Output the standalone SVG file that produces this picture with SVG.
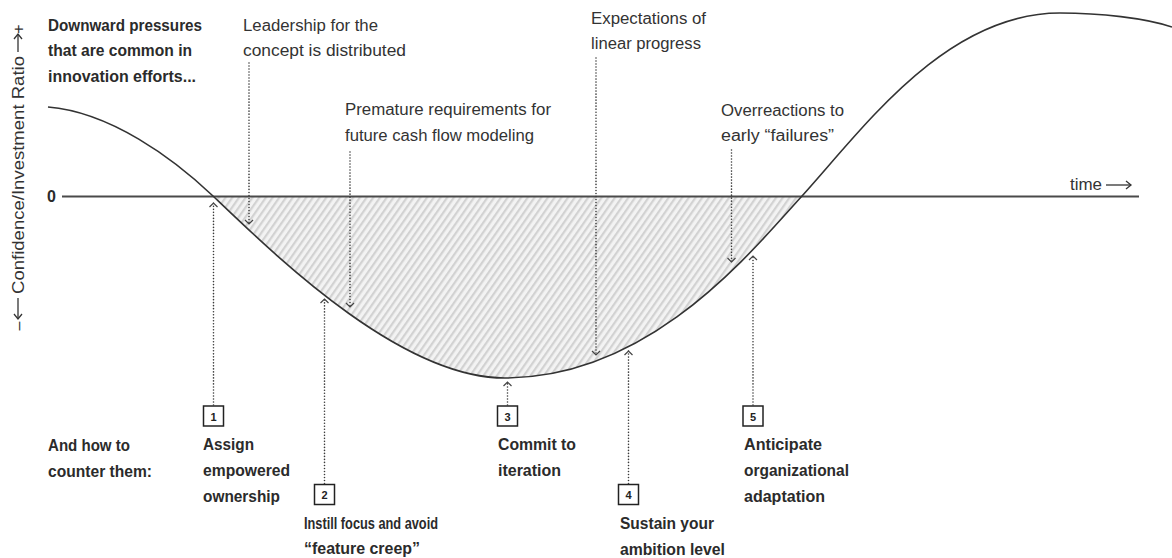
<svg xmlns="http://www.w3.org/2000/svg" width="1172" height="558" viewBox="0 0 1172 558">
<style>
  .b{font-family:"Liberation Sans",Arial,sans-serif;font-weight:bold;font-size:16px;fill:#2b2b2b}
  .r{font-family:"Liberation Sans",Arial,sans-serif;font-size:16px;fill:#333}
  .dot{fill:none;stroke:#3a3a3a;stroke-width:1.6;stroke-linecap:round;stroke-dasharray:0.01 3}
  .box{fill:#fff;stroke:#222;stroke-width:1.5}
  .num{font-family:"Liberation Sans",Arial,sans-serif;font-weight:bold;font-size:11px;fill:#222;text-anchor:middle}
  .curve{fill:none;stroke:#333;stroke-width:1.6}
  .axis{fill:none;stroke:#4a4a4a;stroke-width:2}
  .arr{fill:none;stroke:#333;stroke-width:1.3}
</style>
<defs>
  <pattern id="hatch" width="5.5" height="10" patternUnits="userSpaceOnUse" patternTransform="rotate(35)">
    <rect width="5.5" height="10" fill="#f3f3f3"/>
    <rect width="2.2" height="10" fill="#d2d2d2"/>
  </pattern>
  <marker id="chev" markerWidth="10" markerHeight="10" refX="0" refY="0" orient="auto" markerUnits="userSpaceOnUse" overflow="visible">
    <path d="M-4,-4 L0,0 L-4,4" fill="none" stroke="#444" stroke-width="1.2"/>
  </marker>
  <marker id="ahead" markerWidth="10" markerHeight="10" refX="0" refY="0" orient="auto" markerUnits="userSpaceOnUse" overflow="visible">
    <path d="M-5,-4 L0,0 L-5,4" fill="none" stroke="#333" stroke-width="1.3"/>
  </marker>
</defs>

<g id="chart">
  <path id="hatched-area" d="M213,196 C275,255 400,378 505,378 C650,378 750,253 802,196 Z" fill="url(#hatch)"/>
  <line class="axis" x1="62" y1="196.5" x2="1139" y2="196.5"/>
  <path class="curve" d="M48,107 C110,112 173,158 213,196 C275,255 400,378 505,378 C650,378 750,253 802,196 C862,130 945,13 1060,13 C1100,13 1145,18 1172,27"/>
  <text class="b" x="47" y="201.5" font-size="14">0</text>
  <text class="r" x="1070" y="190" textLength="32" lengthAdjust="spacingAndGlyphs">time</text>
  <line class="arr" x1="1106" y1="185" x2="1131" y2="185" marker-end="url(#ahead)"/>
</g>

<g id="y-axis-label">
  <text class="r" transform="translate(24,29) rotate(-90)" text-anchor="middle">+</text>
  <line class="arr" x1="18" y1="52" x2="18" y2="34" marker-end="url(#ahead)"/>
  <text class="r" transform="translate(24,175) rotate(-90)" text-anchor="middle" textLength="238" lengthAdjust="spacingAndGlyphs">Confidence/Investment Ratio</text>
  <line class="arr" x1="18" y1="298" x2="18" y2="319" marker-end="url(#ahead)"/>
  <text class="r" transform="translate(24,326) rotate(-90)" text-anchor="middle">–</text>
</g>

<g id="heading-pressures">
  <text class="b" x="48" y="30.5" textLength="154" lengthAdjust="spacingAndGlyphs">Downward pressures</text>
  <text class="b" x="48" y="56" textLength="144" lengthAdjust="spacingAndGlyphs">that are common in</text>
  <text class="b" x="48" y="81.5" textLength="148" lengthAdjust="spacingAndGlyphs">innovation efforts...</text>
</g>
<g id="heading-counter">
  <text class="b" x="48" y="450.5" textLength="82" lengthAdjust="spacingAndGlyphs">And how to</text>
  <text class="b" x="48" y="476.5" textLength="104" lengthAdjust="spacingAndGlyphs">counter them:</text>
</g>

<g id="pressure-leadership">
  <text class="r" x="243" y="30.5" textLength="135" lengthAdjust="spacingAndGlyphs">Leadership for the</text>
  <text class="r" x="243" y="56" textLength="163" lengthAdjust="spacingAndGlyphs">concept is distributed</text>
</g>
<g id="pressure-premature">
  <text class="r" x="345" y="115" textLength="206" lengthAdjust="spacingAndGlyphs">Premature requirements for</text>
  <text class="r" x="345" y="140.5" textLength="189" lengthAdjust="spacingAndGlyphs">future cash flow modeling</text>
</g>
<g id="pressure-expectations">
  <text class="r" x="591" y="24" textLength="115" lengthAdjust="spacingAndGlyphs">Expectations of</text>
  <text class="r" x="591" y="49" textLength="110" lengthAdjust="spacingAndGlyphs">linear progress</text>
</g>
<g id="pressure-overreactions">
  <text class="r" x="721" y="115.5" textLength="123" lengthAdjust="spacingAndGlyphs">Overreactions to</text>
  <text class="r" x="721" y="141" textLength="113" lengthAdjust="spacingAndGlyphs">early “failures”</text>
</g>

<g id="counter-1">
  <rect class="box" x="203.5" y="406" width="20" height="20"/>
  <text class="num" x="213.5" y="420.5">1</text>
  <text class="b" x="203" y="450" textLength="51" lengthAdjust="spacingAndGlyphs">Assign</text>
  <text class="b" x="203" y="476" textLength="87" lengthAdjust="spacingAndGlyphs">empowered</text>
  <text class="b" x="203" y="501.5" textLength="77" lengthAdjust="spacingAndGlyphs">ownership</text>
</g>
<g id="counter-2">
  <rect class="box" x="314.5" y="484.5" width="20" height="20"/>
  <text class="num" x="324.5" y="499">2</text>
  <text class="b" x="304" y="528.5" textLength="134" lengthAdjust="spacingAndGlyphs">Instill focus and avoid</text>
  <text class="b" x="304" y="554" textLength="116" lengthAdjust="spacingAndGlyphs">“feature creep”</text>
</g>
<g id="counter-3">
  <rect class="box" x="497.5" y="406" width="20" height="20"/>
  <text class="num" x="507.5" y="420.5">3</text>
  <text class="b" x="498" y="450" textLength="78" lengthAdjust="spacingAndGlyphs">Commit to</text>
  <text class="b" x="498" y="476" textLength="63" lengthAdjust="spacingAndGlyphs">iteration</text>
</g>
<g id="counter-4">
  <rect class="box" x="618.5" y="484.5" width="20" height="20"/>
  <text class="num" x="628.5" y="499">4</text>
  <text class="b" x="620" y="528.5" textLength="94" lengthAdjust="spacingAndGlyphs">Sustain your</text>
  <text class="b" x="620" y="554.5" textLength="105" lengthAdjust="spacingAndGlyphs">ambition level</text>
</g>
<g id="counter-5">
  <rect class="box" x="743" y="406" width="20" height="20"/>
  <text class="num" x="753" y="420.5">5</text>
  <text class="b" x="744" y="450" textLength="78" lengthAdjust="spacingAndGlyphs">Anticipate</text>
  <text class="b" x="744" y="476" textLength="105" lengthAdjust="spacingAndGlyphs">organizational</text>
  <text class="b" x="744" y="501.5" textLength="81" lengthAdjust="spacingAndGlyphs">adaptation</text>
</g>

<g id="connectors">
  <line class="dot" x1="249" y1="63" x2="249" y2="224" marker-end="url(#chev)"/>
  <line class="dot" x1="350" y1="152" x2="350" y2="307" marker-end="url(#chev)"/>
  <line class="dot" x1="596" y1="58" x2="596" y2="355" marker-end="url(#chev)"/>
  <line class="dot" x1="731.5" y1="150" x2="731.5" y2="262" marker-end="url(#chev)"/>
  <line class="dot" x1="213.5" y1="405" x2="213.5" y2="203" marker-end="url(#chev)"/>
  <line class="dot" x1="324.5" y1="483.5" x2="324.5" y2="299" marker-end="url(#chev)"/>
  <line class="dot" x1="507.5" y1="405" x2="507.5" y2="382" marker-end="url(#chev)"/>
  <line class="dot" x1="628.5" y1="483.5" x2="628.5" y2="351" marker-end="url(#chev)"/>
  <line class="dot" x1="753" y1="405" x2="753" y2="256" marker-end="url(#chev)"/>
</g>
</svg>
